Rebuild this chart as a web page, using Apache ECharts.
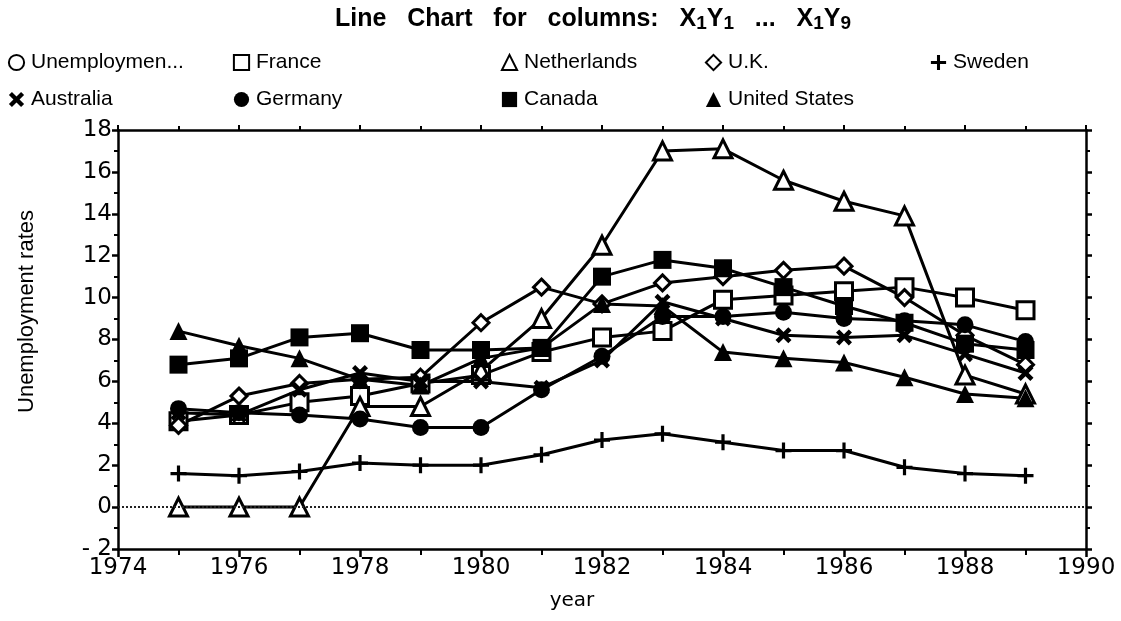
<!DOCTYPE html>
<html>
<head>
<meta charset="utf-8">
<script src="https://cdn.jsdelivr.net/npm/echarts@6/dist/echarts.min.js"></script>
<style>
  html, body { margin: 0; padding: 0; background: #fff; }
  #main { width: 1121px; height: 621px; }
</style>
</head>
<body>
<div id="main"></div>
<script>
// data
var years = [1975, 1976, 1977, 1978, 1979, 1980, 1981, 1982, 1983, 1984, 1985, 1986, 1987, 1988, 1989];
var unemp = [];
var france = [4.1, 4.4, 5.0, 5.3, 5.9, 6.3, 7.4, 8.1, 8.4, 9.9, 10.1, 10.3, 10.5, 10.0, 9.4];
var netherlands = [0, 0, 0, 4.8, 4.8, 6.5, 9.0, 12.5, 17.0, 17.1, 15.6, 14.6, 13.9, 6.3, 5.4];
var uk = [3.9, 5.3, 5.9, 6.1, 6.2, 8.8, 10.5, 9.7, 10.7, 11.0, 11.3, 11.5, 10.0, 8.2, 6.8];
var sweden = [1.6, 1.5, 1.7, 2.1, 2.0, 2.0, 2.5, 3.2, 3.5, 3.1, 2.7, 2.7, 1.9, 1.6, 1.5];
var australia = [4.5, 4.4, 5.6, 6.4, 6.0, 6.0, 5.7, 7.0, 9.8, 9.0, 8.2, 8.1, 8.2, 7.3, 6.4];
var germany = [4.7, 4.5, 4.4, 4.2, 3.8, 3.8, 5.6, 7.2, 9.1, 9.1, 9.3, 9.0, 8.9, 8.7, 7.9];
var canada = [6.8, 7.1, 8.1, 8.3, 7.5, 7.5, 7.6, 11.0, 11.8, 11.4, 10.5, 9.6, 8.8, 7.8, 7.5];
var us = [8.4, 7.7, 7.1, 6.1, 5.8, 7.1, 7.6, 9.7, 9.6, 7.4, 7.1, 6.9, 6.2, 5.4, 5.2];

var xTicks = [1974, 1976, 1978, 1980, 1982, 1984, 1986, 1988, 1990];
var yTicks = [-2, 0, 2, 4, 6, 8, 10, 12, 14, 16, 18];

var PLUS = 'path://M4,0h2v4h4v2h-4v4h-2v-4h-4v-2h4z';
var CROSS = 'path://M0,2L2,0L5,3L8,0L10,2L7,5L10,8L8,10L5,7L2,10L0,8L3,5Z';

function pairs(vals) {
    var out = [];
    for (var i = 0; i < vals.length; i++) {
        out.push([years[i], vals[i]]);
    }
    return out;
}

// one line series, open markers get a white fill
function line(name, vals, symbol, size, open) {
    return {
        type: 'line',
        name: name,
        data: pairs(vals),
        symbol: symbol,
        symbolSize: size,
        showAllSymbol: true,
        lineStyle: { color: '#000', width: 3 },
        itemStyle: open
            ? { color: '#fff', borderColor: '#000', borderWidth: 3 }
            : { color: '#000', borderColor: '#000', borderWidth: 0 },
        emphasis: { disabled: true },
        animation: false
    };
}

function legendCol(left, names) {
    return {
        left: left,
        top: 47,
        orient: 'vertical',
        itemGap: 16,
        itemWidth: 19,
        itemHeight: 19,
        selectedMode: false,
        data: names,
        lineStyle: { opacity: 0 },
        textStyle: { fontFamily: 'Liberation Sans', fontSize: 21, color: '#000' }
    };
}

function spaced(v) {
    return v < 0 ? '- ' + (-v) : String(v);
}

var chart = echarts.init(document.getElementById('main'));

var series = [
    line('Unemploymen...', unemp, 'circle', 17, true),
    line('France', france, 'rect', 17, true),
    line('Netherlands', netherlands, 'triangle', 18, true),
    line('U.K.', uk, 'diamond', 16, true),
    line('Sweden', sweden, PLUS, 16, false),
    line('Australia', australia, CROSS, 16, false),
    line('Germany', germany, 'circle', 17, false),
    line('Canada', canada, 'rect', 18, false),
    line('United States', us, 'triangle', 18, false)
];

// dotted zero line
series[4].markLine = {
    silent: true,
    symbol: 'none',
    label: { show: false },
    lineStyle: { color: '#222', type: 'dotted', width: 2 },
    data: [{ yAxis: 0 }],
    animation: false
};

var axisLineStyle = { color: '#000', width: 2.5 };

var option = {
    backgroundColor: '#fff',
    animation: false,
    title: {
        text: 'Line   Chart   for   columns:   X{s|1}Y{s|1}   ...   X{s|1}Y{s|9}',
        left: 330,
        top: 0,
        textStyle: {
            fontFamily: 'Liberation Sans',
            fontWeight: 'bold',
            fontSize: 25,
            color: '#000',
            rich: {
                s: { fontFamily: 'Liberation Sans', fontWeight: 'bold', fontSize: 19, color: '#000', padding: [9, 0, 0, 0] }
            }
        }
    },
    legend: [
        legendCol(1, ['Unemploymen...', 'Australia']),
        legendCol(226, ['France', 'Germany']),
        legendCol(494, ['Netherlands', 'Canada']),
        legendCol(698, ['U.K.', 'United States']),
        legendCol(923, ['Sweden'])
    ],
    grid: { left: 118, right: 35, top: 130, bottom: 72 },
    xAxis: [{
        type: 'value',
        min: xTicks[0],
        max: xTicks[xTicks.length - 1],
        interval: 2,
        name: 'year',
        nameLocation: 'middle',
        nameGap: 42,
        nameTextStyle: { fontFamily: 'DejaVu Sans', fontSize: 20, color: '#000', padding: [0, 60, 0, 0] },
        axisLine: { onZero: false, lineStyle: axisLineStyle },
        axisTick: { length: 8, lineStyle: axisLineStyle },
        minorTick: { show: true, splitNumber: 2, length: 6, lineStyle: { color: '#000', width: 2 } },
        splitLine: { show: false },
        axisLabel: { fontFamily: 'DejaVu Sans', fontSize: 23, color: '#000', margin: 8, formatter: function (v) { return String(v); } }
    }, {
        type: 'value',
        position: 'top',
        min: xTicks[0],
        max: xTicks[xTicks.length - 1],
        interval: 2,
        axisLine: { onZero: false, lineStyle: axisLineStyle },
        axisTick: { length: 5, lineStyle: { color: '#000', width: 2 } },
        minorTick: { show: true, splitNumber: 2, length: 4, lineStyle: { color: '#000', width: 2 } },
        splitLine: { show: false },
        axisLabel: { show: false }
    }],
    yAxis: [{
        type: 'value',
        min: yTicks[0],
        max: yTicks[yTicks.length - 1],
        interval: 2,
        name: 'Unemployment rates',
        nameLocation: 'middle',
        nameGap: 80,
        nameTextStyle: { fontFamily: 'Liberation Sans', fontSize: 22, color: '#000', padding: [0, 0, 0, 56] },
        axisLine: { onZero: false, lineStyle: axisLineStyle },
        axisTick: { length: 6, lineStyle: axisLineStyle },
        minorTick: { show: true, splitNumber: 2, length: 4, lineStyle: { color: '#000', width: 2 } },
        splitLine: { show: false },
        axisLabel: { fontFamily: 'DejaVu Sans', fontSize: 23, color: '#000', margin: 6, formatter: spaced }
    }, {
        type: 'value',
        position: 'right',
        min: yTicks[0],
        max: yTicks[yTicks.length - 1],
        interval: 2,
        axisLine: { onZero: false, lineStyle: axisLineStyle },
        axisTick: { length: 6, lineStyle: axisLineStyle },
        minorTick: { show: true, splitNumber: 2, length: 4, lineStyle: { color: '#000', width: 2 } },
        splitLine: { show: false },
        axisLabel: { show: false }
    }],
    series: series
};

chart.setOption(option);
</script>
</body>
</html>
